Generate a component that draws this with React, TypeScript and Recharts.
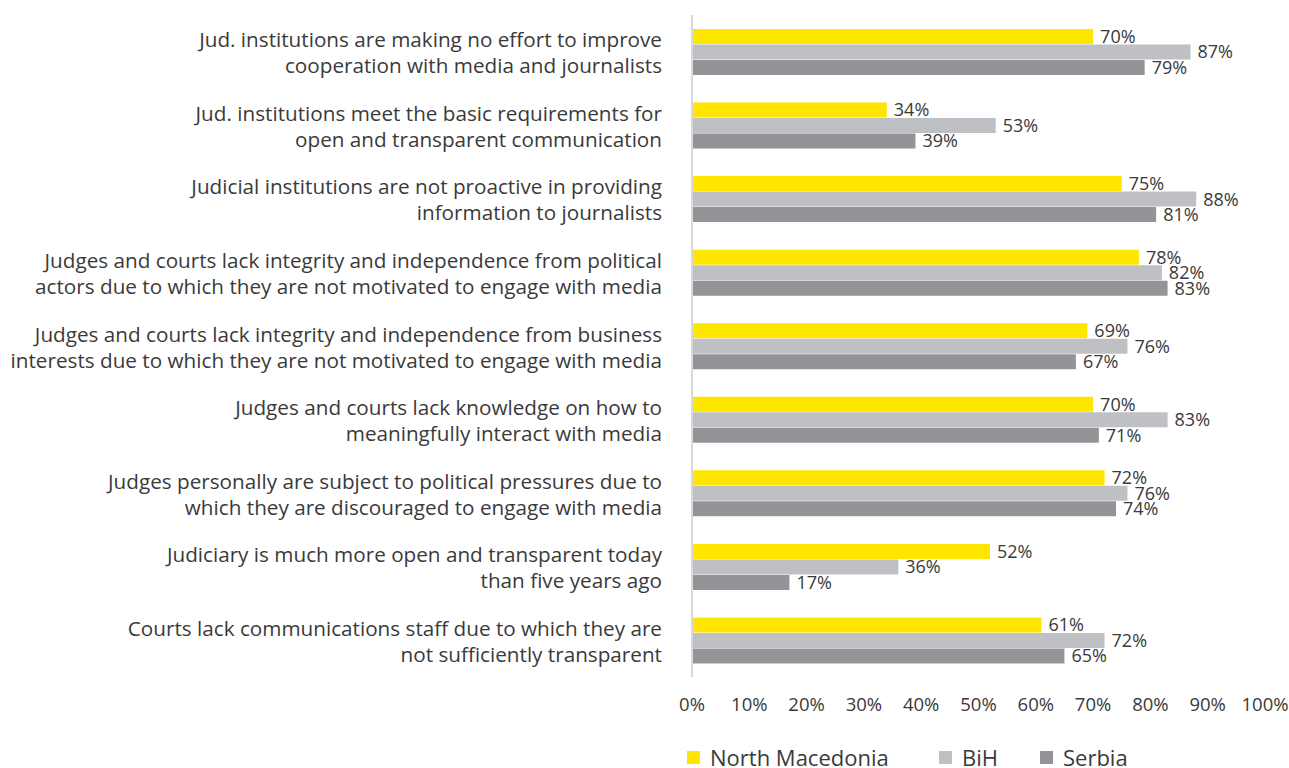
import React from 'react';
import { BarChart, Bar, XAxis, YAxis, Legend, LabelList } from 'recharts';

const categories: string[][] = [
  ['Jud. institutions are making no effort to improve', 'cooperation with media and journalists'],
  ['Jud. institutions meet the basic requirements for', 'open and transparent communication'],
  ['Judicial institutions are not proactive in providing', 'information to journalists'],
  ['Judges and courts lack integrity and independence from political', 'actors due to which they are not motivated to engage with media'],
  ['Judges and courts lack integrity and independence from business', 'interests due to which they are not motivated to engage with media'],
  ['Judges and courts lack knowledge on how to', 'meaningfully interact with media'],
  ['Judges personally are subject to political pressures due to', 'which they are discouraged to engage with media'],
  ['Judiciary is much more open and transparent today', 'than five years ago'],
  ['Courts lack communications staff due to which they are', 'not sufficiently transparent'],
];

const northMacedonia = [70, 34, 75, 78, 69, 70, 72, 52, 61];
const bih = [87, 53, 88, 82, 76, 83, 76, 36, 72];
const serbia = [79, 39, 81, 83, 67, 71, 74, 17, 65];

const xTicks = [0, 10, 20, 30, 40, 50, 60, 70, 80, 90, 100];

const seriesNames = ['North Macedonia', 'BiH', 'Serbia'];
const seriesKeys = ['nm', 'bih', 'srb'];
const seriesColors = ['#FFE600', '#BFC0C4', '#949498'];

const data = categories.map((c, i) => ({
  name: i,
  nm: northMacedonia[i],
  bih: bih[i],
  srb: serbia[i],
}));

const FONT = '"Open Sans", "Noto Sans", sans-serif';
const TEXT = '#3a3a3a';

const CategoryTick = (props: any) => {
  const { x, y, payload } = props;
  const lines = categories[payload.value] || [];
  return (
    <g>
      {lines.map((l, i) => (
        <text
          key={i}
          x={x - 22}
          y={y + (i === 0 ? -12.5 : 13.5)}
          textAnchor="end"
          dominantBaseline="central"
          fontFamily={FONT}
          fontSize={20.7}
          fill={TEXT}
        >
          {l}
        </text>
      ))}
    </g>
  );
};

const legendLefts = [687, 939, 1040];

const LegendContent = () => (
  <div style={{ position: 'relative', width: 1289, height: 26 }}>
    {seriesNames.map((n, i) => (
      <div
        key={n}
        style={{
          position: 'absolute',
          left: legendLefts[i],
          top: 5,
          display: 'flex',
          alignItems: 'center',
          height: 20,
          lineHeight: '20px',
          fontFamily: FONT,
          fontSize: 22,
          color: TEXT,
          whiteSpace: 'nowrap',
        }}
      >
        <span style={{ display: 'inline-block', width: 13, height: 13, background: seriesColors[i], marginRight: 10 }} />
        {n}
      </div>
    ))}
  </div>
);

export default function App() {
  return (
    <div style={{ position: 'absolute', left: 0, top: 0, width: 1289, height: 768, background: '#fff' }}>
      <BarChart
        width={1289}
        height={768}
        data={data}
        layout="vertical"
        margin={{ top: 15, right: 24, bottom: 0, left: 0 }}
        barGap={0.5}
        barCategoryGap={14}
      >
        <XAxis
          type="number"
          domain={[0, 100]}
          ticks={xTicks}
          tickFormatter={(v) => `${v}%`}
          axisLine={false}
          tickLine={false}
          tickMargin={15}
          height={65}
          interval={0}
          tick={{ fontFamily: FONT, fontSize: 18.5, fill: TEXT }}
        />
        <YAxis
          type="category"
          dataKey="name"
          width={692}
          axisLine={{ stroke: '#D9D9D9', strokeWidth: 2 }}
          tickLine={false}
          tick={<CategoryTick />}
          interval={0}
        />
        <Legend verticalAlign="bottom" content={<LegendContent />} wrapperStyle={{ left: 0, width: 1289 }} />
        {seriesKeys.map((k, i) => (
          <Bar key={k} dataKey={k} name={seriesNames[i]} fill={seriesColors[i]} barSize={15} isAnimationActive={false}>
            <LabelList
              dataKey={k}
              position="right"
              offset={7}
              formatter={(v: any) => `${v}%`}
              style={{ fontFamily: FONT, fontSize: 18, fill: TEXT }}
            />
          </Bar>
        ))}
      </BarChart>
    </div>
  );
}
